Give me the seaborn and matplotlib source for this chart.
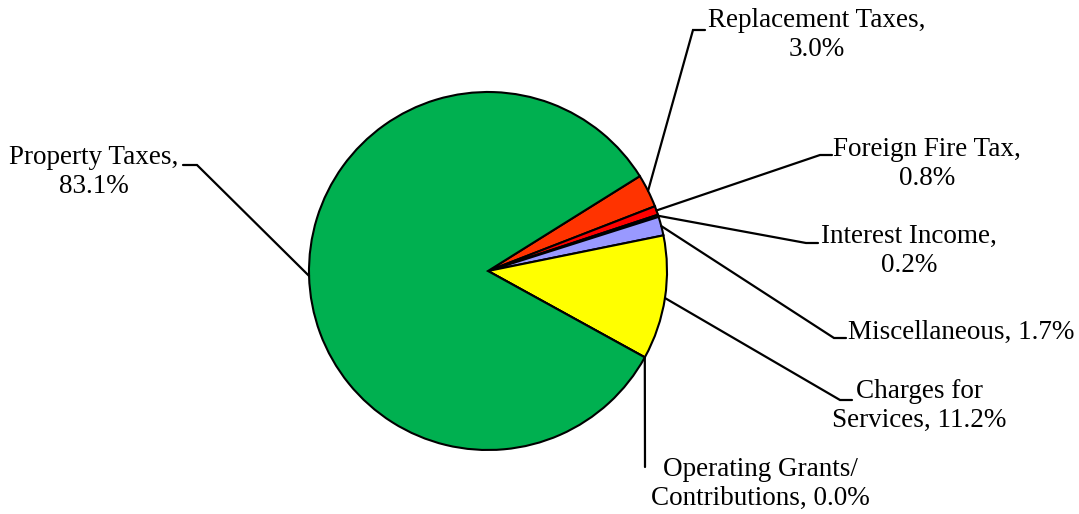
import numpy as np
import matplotlib
matplotlib.use("Agg")
import matplotlib.pyplot as plt
import seaborn as sns

# revenue shares, in the order drawn clockwise from the top of the red slice
categories = ["Replacement Taxes", "Foreign Fire Tax", "Interest Income",
              "Miscellaneous", "Charges for Services",
              "Operating Grants/ Contributions", "Property Taxes"]
shares = [3.0, 0.8, 0.2, 1.7, 11.2, 0.0, 83.1]
label_text = ["Replacement Taxes,\n3.0%", "Foreign Fire Tax,\n0.8%",
              "Interest Income,\n0.2%", "Miscellaneous, 1.7%",
              "Charges for\nServices, 11.2%",
              "Operating Grants/\nContributions, 0.0%",
              "Property Taxes,\n83.1%"]
colors = ["#FF3300", "#FF0000", "#333366", "#9999FF", "#FFFF00",
          "#4472C4", "#00B050"]

sns.set_style("white")
plt.rcParams["font.family"] = ["Liberation Serif", "DejaVu Serif"]

W, H = 1079, 514
fig = plt.figure(figsize=(W / 100, H / 100), dpi=100)
ax = fig.add_axes([0, 0, 1, 1])

cx, cy, r = 488, H - 271, 179
wedges, _ = ax.pie(shares, colors=colors, startangle=32, counterclock=False,
                   center=(cx, cy), radius=r,
                   wedgeprops=dict(edgecolor="black", linewidth=1.5))
ax.set_xlim(0, W)
ax.set_ylim(0, H)
ax.set_aspect("equal")
ax.axis("off")

# leader layout in pixel coords (y from top): elbow, end of tick, text anchor
layout = [
    dict(elbow=(693, 30), end=(705, 30), text=(817, 8), ha="center"),
    dict(elbow=(820, 155), end=(832, 155), text=(927, 137), ha="center"),
    dict(elbow=(806, 243), end=(818, 243), text=(909, 224), ha="center"),
    dict(elbow=(834, 338), end=(846, 338), text=(848, 320), ha="left"),
    dict(elbow=(840, 400), end=(852, 400), text=(919, 379), ha="center"),
    dict(elbow=(645, 467), end=(645, 467), text=(760, 457), ha="center"),
    dict(elbow=(197, 165), end=(183, 165), text=(94, 145), ha="center"),
]

for w, lab, lay in zip(wedges, label_text, layout):
    if w.theta2 - w.theta1 < 1e-6:
        ang = np.deg2rad(w.theta1)
    else:
        ang = np.deg2rad((w.theta1 + w.theta2) / 2)
    x0 = cx + r * np.cos(ang)
    y0 = cy + r * np.sin(ang)
    ex, ey = lay["elbow"]
    tx, ty = lay["end"]
    ax.plot([x0, ex, tx], [y0, H - ey, H - ty], color="black", lw=1.6,
            solid_joinstyle="miter")
    ax.text(lay["text"][0], H - lay["text"][1], lab, ha=lay["ha"],
            va="top", multialignment="center", fontsize=19.5,
            linespacing=1.22, color="black")

fig.savefig("out.png", dpi=100)
